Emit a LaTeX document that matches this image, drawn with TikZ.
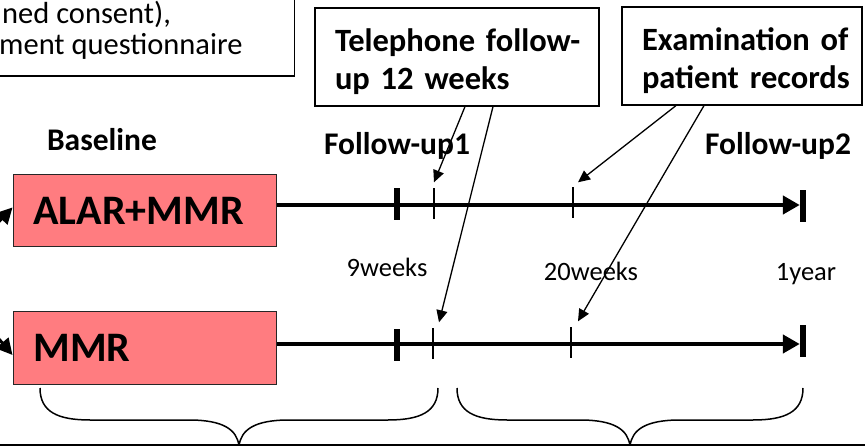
\documentclass[tikz,border=0pt]{standalone}
\usepackage{fontspec}
\setmainfont{Carlito}
\usetikzlibrary{arrows.meta,positioning}
\definecolor{salmon}{HTML}{FF7C80}
\tikzset{
  grp/.style={draw=black!85,line width=1pt,fill=salmon,minimum width=263pt,minimum height=72pt,
              text width=222pt,align=left,inner xsep=20pt,font=\fontsize{42}{48}\selectfont\bfseries},
  note/.style={draw=black,line width=1.2pt,fill=white,align=left,inner xsep=20pt,
               minimum height=98pt,font=\fontsize{32.5}{38}\selectfont\bfseries},
  notetxt/.style={font=\fontsize{30.5}{34}\selectfont,anchor=base west,inner sep=0pt},
  head/.style={font=\fontsize{31.5}{36}\selectfont\bfseries,anchor=base},
  when/.style={font=\fontsize{26.5}{30}\selectfont,anchor=base},
  tk/.style={fill=black,inner sep=0pt,minimum width=1.6pt,minimum height=31pt},
  bigtk/.style={tk,minimum width=5.5pt,minimum height=32pt},
  endbar/.style={tk,minimum width=6pt,minimum height=32pt},
  tline/.style={line width=4.5pt,-{Triangle[length=17pt,width=18pt]}},
  ptr/.style={line width=1.3pt,-{Triangle[length=12pt,width=11pt]}},
  feed/.style={line width=3pt,-{Triangle[length=16pt,width=16pt]}},
  brc/.style={line width=1.5pt}
}
\begin{document}
\begin{tikzpicture}[x=1pt,y=-1pt]
  \useasboundingbox (0,0) rectangle (865,446);
  \clip (0,0) rectangle (865,446);
  \node[draw,line width=1.5pt,minimum width=420pt,minimum height=120pt,anchor=south east] (consent) at (295,77) {};
  \node[notetxt] (consentA) at (2,24) {ned consent),};
  \node[notetxt] (consentB) at (-1,55) {ment questionnaire};
  \node[note,text width=244pt] (tele) at (457,57) {\rule{0pt}{33pt}\mbox{Telephone follow-}\\\mbox{up 12 weeks}};
  \node[note,text width=200pt] (exam) at (742,56) {\rule{0pt}{33pt}\mbox{Examination of}\\\mbox{patient records}};
  \node[head] (base) at (102,151) {Baseline};
  \node[head] (fu1) at (397,155) {Follow-up1};
  \node[head] (fu2) at (778,155) {Follow-up2};
  \node[grp] (alar) at (144.5,210.5) {ALAR+MMR};
  \node[grp] (mmr) at (144.5,348) {MMR};
  \node[endbar] (e1) at (803,206) {};
  \node[endbar] (e2) at (803,341) {};
  \node[bigtk] (w9a) at (397,204) {};
  \node[tk] (tk1a) at (434,204) {};
  \node[tk] (tk2a) at (573,203) {};
  \node[bigtk] (w9b) at (397,345) {};
  \node[tk] (tk1b) at (433,344) {};
  \node[tk] (tk2b) at (571,343) {};
  \draw[tline] (alar.east |- 0,205) -- (e1.west |- 0,205);
  \draw[tline] (mmr.east |- 0,344) -- (e2.west |- 0,344);
  \node[when] (l9) at (387,277) {9weeks};
  \node[when] (l20) at (591,281) {20weeks};
  \node[when] (l1y) at (806,281) {1year};
  \draw[ptr] ([xshift=8pt]tele.south) -- ([yshift=6pt]tk1a.north);
  \draw[ptr] ([xshift=36pt]tele.south) -- ([xshift=6pt,yshift=6pt]tk1b.north);
  \draw[ptr] ([xshift=-66pt]exam.south) -- ([xshift=5pt,yshift=5pt]tk2a.north);
  \draw[ptr] ([xshift=-38pt]exam.south) -- ([xshift=7pt,yshift=6pt]tk2b.north);
  \coordinate (inA) at (-30,252);
  \coordinate (inB) at (-30,305);
  \draw[feed] (inA) -- ([yshift=3pt]alar.west);
  \draw[feed] (inB) -- ([yshift=-7pt]mmr.west);
  \foreach \l/\r [evaluate=\l as \m using (\l+\r)/2] in {40/438,457/803}
    \draw[brc] (\l,388) .. controls (\l,412) and (\l+18,420) .. (\l+50,420) -- (\m-50,420)
      .. controls (\m-15,420) and (\m-2,430) .. (\m,446) .. controls (\m+2,430) and (\m+15,420) .. (\m+50,420)
      -- (\r-50,420) .. controls (\r-18,420) and (\r,412) .. (\r,388);
  \node[draw,line width=2.5pt,minimum width=900pt,minimum height=100pt,anchor=north] (summary) at (432,444) {};
\end{tikzpicture}
\end{document}
